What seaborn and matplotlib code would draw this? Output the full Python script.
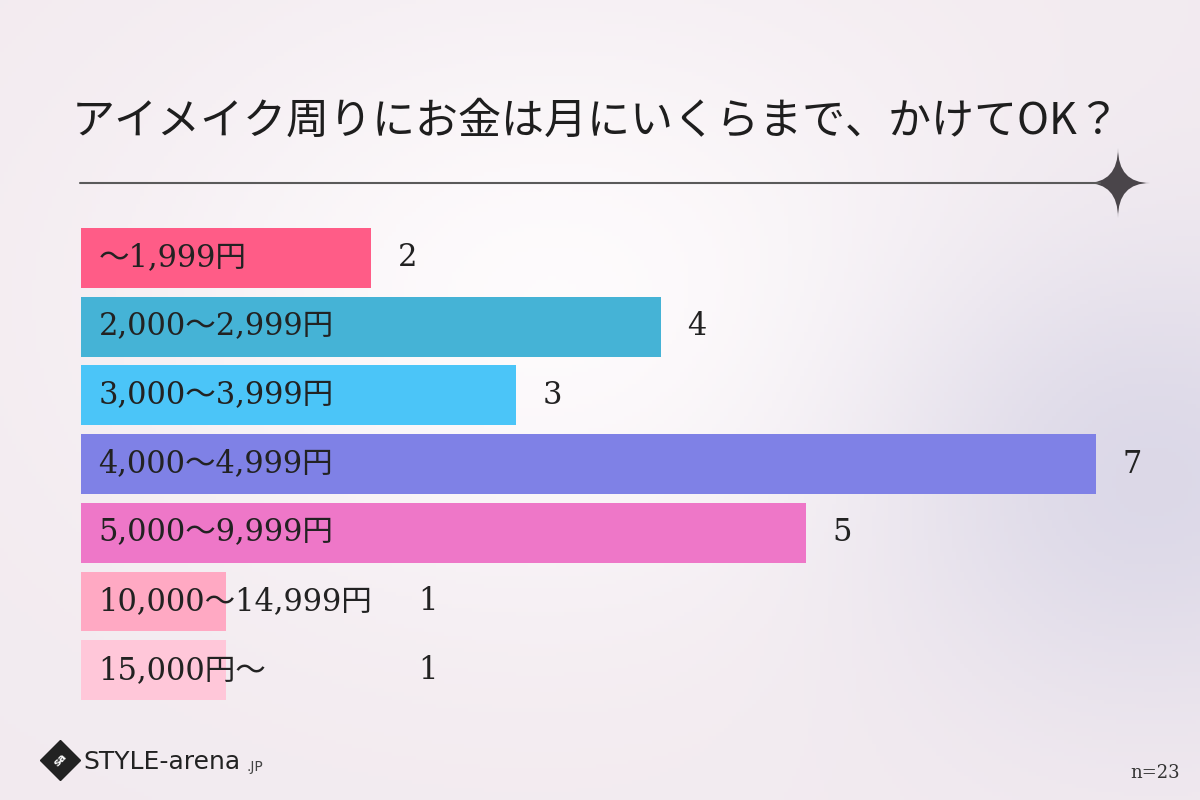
import numpy as np
import pandas as pd
import seaborn as sns
import matplotlib.pyplot as plt
from matplotlib.path import Path
from matplotlib.patches import PathPatch

title = "アイメイク周りにお金は月にいくらまで、かけてOK？"
ranges = ["〜1,999円", "2,000〜2,999円", "3,000〜3,999円", "4,000〜4,999円",
          "5,000〜9,999円", "10,000〜14,999円", "15,000円〜"]
counts = [2, 4, 3, 7, 5, 1, 1]
colors = ["#FF5C87", "#45B3D6", "#4BC5F8", "#7F81E6", "#EE77C8", "#FFA9C3", "#FFC7D9"]
sample_note = "n=23"

sns.set_theme(style="white")
plt.rcParams['font.family'] = ['DejaVu Serif', 'Noto Sans CJK JP']

fig = plt.figure(figsize=(12, 8), dpi=100)

# soft pink / lavender backdrop, in pixel coordinates
bg = fig.add_axes([0, 0, 1, 1])
bg.axis('off')
yy, xx = np.mgrid[0:800:200j, 0:1200:300j]
base = np.array([0.95, 0.92, 0.94])
light = np.array([0.995, 0.985, 0.99])
lav = np.array([0.84, 0.83, 0.90])
w_light = np.exp(-(((xx - 560) / 420) ** 2 + ((yy - 300) / 300) ** 2))
w_lav = np.exp(-(((xx - 1150) / 260) ** 2 + ((yy - 480) / 230) ** 2)) * 0.8
img = base[None, None, :] * (1 - w_light[..., None]) + light[None, None, :] * w_light[..., None]
img = img * (1 - w_lav[..., None]) + lav[None, None, :] * w_lav[..., None]
bg.imshow(np.clip(img, 0, 1), extent=[0, 1200, 800, 0], aspect='auto')
bg.set_xlim(0, 1200)
bg.set_ylim(800, 0)

# title, rule and sparkle
bg.text(72, 122, title, fontsize=31, family=['Noto Sans CJK JP'], color='#1e1e1e',
        va='center', ha='left')
bg.plot([80, 1100], [183, 183], color='#5a5a5a', lw=1.5)
cx, cy = 1118, 183
star = Path([(cx, cy - 35), (cx, cy), (cx + 32, cy), (cx, cy), (cx, cy + 35),
             (cx, cy), (cx - 32, cy), (cx, cy), (cx, cy - 35)],
            [Path.MOVETO, Path.CURVE3, Path.CURVE3, Path.CURVE3, Path.CURVE3,
             Path.CURVE3, Path.CURVE3, Path.CURVE3, Path.CURVE3])
bg.add_patch(PathPatch(star, facecolor='#4a454a', edgecolor='none'))

# logo and sample size
bg.plot(60, 760, marker='D', ms=20, color='#222222')
bg.text(60, 760, "sa", color='white', fontsize=8, family='DejaVu Sans',
        ha='center', va='center', rotation=45, fontweight='bold')
bg.text(83, 762, "STYLE-arena", fontsize=18, family='DejaVu Sans', color='#222222',
        ha='left', va='center')
bg.text(246, 767, ".JP", fontsize=10, family='DejaVu Sans', color='#444444',
        ha='left', va='center')
bg.text(1180, 773, sample_note, fontsize=13, color='#333333', ha='right', va='center')

# bars
df = pd.DataFrame({"range": ranges, "count": counts})
ax = fig.add_axes([81 / 1200, 1 - 704.6 / 800, 7.5 * 145 / 1200, 481 / 800])
sns.barplot(data=df, x="count", y="range", hue="range", palette=colors, legend=False,
            width=0.87, saturation=1, linewidth=0, ax=ax)
ax.set_xlim(0, 7.5)
ax.set_ylim(6.5, -0.5)
ax.axis('off')

for i, (r, c) in enumerate(zip(ranges, counts)):
    ax.text(0.12, i, r, va='center', ha='left', fontsize=22, color='#222222')
    vx = c + 0.25 if c > 1 else 2.39
    ax.text(vx, i, str(c), va='center', ha='center', fontsize=22, color='#222222')

fig.savefig("out.png", dpi=100)
